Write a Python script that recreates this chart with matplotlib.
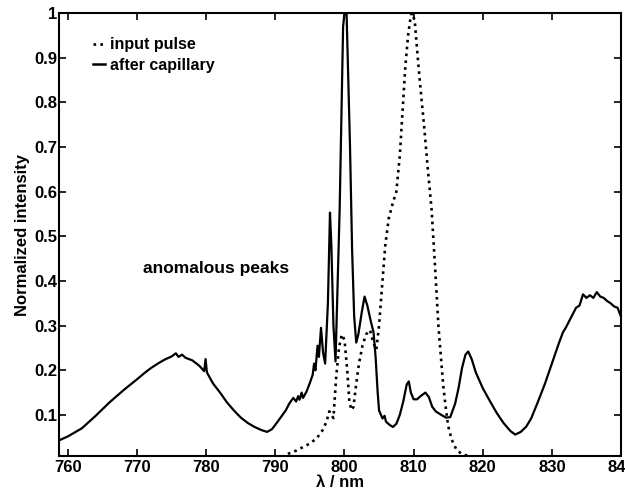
import matplotlib
matplotlib.use("Agg")
import matplotlib.pyplot as plt
from matplotlib.lines import Line2D

# Spectrum after the capillary (wavelength in nm, normalized intensity)
after_wl = [758.7, 760, 762, 764, 766, 768, 770, 771, 772, 773, 774, 775, 775.6, 776,
            776.5, 777, 778, 779, 779.7, 779.9, 780.1, 781, 782, 783, 784, 785, 786,
            787, 788, 788.8, 789.5, 790, 790.8, 791.5, 792, 792.3, 792.6, 793, 793.3,
            793.5, 793.8, 794, 794.5, 795, 795.4, 795.6, 795.8, 796.1, 796.3, 796.6,
            796.9, 797.2, 797.6, 797.9, 798.1, 798.4, 798.7, 799.3, 799.8, 800.0,
            800.3, 800.8, 801.1, 801.4, 801.7, 802.0, 802.5, 802.9, 803.3, 803.8,
            804.2, 804.5, 804.8, 805.0, 805.5, 805.8, 806.0, 806.5, 807.0, 807.5,
            808.0, 808.5, 809.0, 809.3, 809.6, 810.0, 810.5, 811.0, 811.7, 812.2,
            812.7, 813.2, 814.0, 814.7, 815.3, 816.0, 816.5, 817.0, 817.5, 817.9,
            818.4, 819.0, 820.0, 821.0, 822.0, 823.0, 824.0, 824.7, 825.5, 826.3,
            827.0, 828.0, 829.0, 830.0, 831.0, 831.6, 832.0, 833.0, 833.5, 834.0,
            834.5, 835.0, 835.5, 836.0, 836.5, 837.0, 837.5, 838.0, 838.5, 839.0,
            839.5, 840.0]
after_int = [0.043, 0.052, 0.070, 0.098, 0.128, 0.155, 0.180, 0.193, 0.205, 0.215, 0.224,
             0.231, 0.238, 0.230, 0.235, 0.228, 0.222, 0.210, 0.198, 0.225, 0.195, 0.170,
             0.150, 0.128, 0.110, 0.094, 0.082, 0.073, 0.066, 0.062, 0.068, 0.078, 0.095,
             0.110, 0.125, 0.132, 0.138, 0.130, 0.142, 0.134, 0.150, 0.138, 0.152, 0.172,
             0.190, 0.215, 0.200, 0.255, 0.230, 0.295, 0.240, 0.215, 0.350, 0.553, 0.480,
             0.300, 0.220, 0.560, 0.970, 1.000, 1.000, 0.700, 0.470, 0.320, 0.262, 0.280,
             0.330, 0.365, 0.345, 0.310, 0.285, 0.230, 0.150, 0.110, 0.092, 0.098, 0.085,
             0.078, 0.073, 0.080, 0.100, 0.130, 0.168, 0.175, 0.150, 0.135, 0.135, 0.142,
             0.150, 0.140, 0.118, 0.108, 0.100, 0.094, 0.095, 0.125, 0.160, 0.205, 0.235,
             0.242, 0.225, 0.195, 0.160, 0.132, 0.105, 0.082, 0.064, 0.056, 0.062, 0.074,
             0.092, 0.130, 0.170, 0.215, 0.260, 0.285, 0.295, 0.325, 0.340, 0.345, 0.370,
             0.362, 0.368, 0.362, 0.375, 0.365, 0.362, 0.355, 0.350, 0.343, 0.340, 0.320]

# Input pulse spectrum
input_wl = [786, 788, 790, 791, 792, 793, 794, 795, 796, 796.8, 797.4, 797.8, 798.1,
            798.4, 798.8, 799.2, 799.6, 800.0, 800.4, 800.7, 801.0, 801.3, 801.7, 802.1,
            802.6, 803.1, 803.7, 804.1, 804.6, 805.0, 805.4, 805.9, 806.4, 807.0, 807.5,
            808.0, 808.4, 808.8, 809.2, 809.6, 809.9, 810.2, 810.6, 811.0, 811.5, 812.0,
            812.6, 813.1, 813.6, 814.0, 814.3, 814.7, 815.0, 815.5, 816.2, 817.0, 818.5,
            820.0, 822.0]
input_int = [0.0, 0.0, 0.002, 0.006, 0.014, 0.020, 0.028, 0.036, 0.048, 0.065, 0.085,
             0.108, 0.100, 0.093, 0.185, 0.250, 0.280, 0.268, 0.200, 0.130, 0.111, 0.118,
             0.170, 0.215, 0.255, 0.280, 0.290, 0.265, 0.246, 0.300, 0.380, 0.480, 0.540,
             0.575, 0.600, 0.680, 0.780, 0.880, 0.950, 0.995, 1.000, 0.975, 0.900, 0.830,
             0.750, 0.660, 0.560, 0.432, 0.297, 0.220, 0.163, 0.110, 0.075, 0.045, 0.022,
             0.012, 0.006, 0.003, 0.0]

x_ticks = [760, 770, 780, 790, 800, 810, 820, 830, 840]
y_ticks = [0.1, 0.2, 0.3, 0.4, 0.5, 0.6, 0.7, 0.8, 0.9, 1.0]
y_tick_labels = ["0.1", "0.2", "0.3", "0.4", "0.5", "0.6", "0.7", "0.8", "0.9", "1"]

plt.rcParams["font.family"] = ["Liberation Sans", "DejaVu Sans"]
plt.rcParams["font.weight"] = "bold"

fig = plt.figure(figsize=(6.25, 4.94), dpi=100)
ax = fig.add_axes([0.0944, 0.0769, 0.8992, 0.8968])

dotted = (0, (1, 1.6))
ax.plot(input_wl, input_int, color="black", lw=1.9, linestyle=dotted)
ax.plot(after_wl, after_int, color="black", lw=1.6)

ax.set_xlim(758.7, 840.0)
ax.set_ylim(0.008, 1.0)
ax.set_xticks(x_ticks)
ax.set_yticks(y_ticks)
ax.set_yticklabels(y_tick_labels)
ax.tick_params(direction="in", length=5, width=1.2, top=True, right=True,
               labelsize=12, pad=3)
ax.tick_params(axis="y", pad=1)
for sp in ax.spines.values():
    sp.set_linewidth(1.5)

ax.set_xlabel("λ / nm", fontsize=12, fontweight="bold", labelpad=0)
ax.set_ylabel("Normalized intensity", fontsize=12, fontweight="bold", labelpad=3)

handles = [Line2D([], [], color="black", lw=1.9, linestyle=dotted),
           Line2D([], [], color="black", lw=1.8)]
ax.legend(handles, ["input pulse", "after capillary"], loc="upper left",
          bbox_to_anchor=(0.06, 0.945), frameon=False, fontsize=11.5,
          handlelength=0.8, handletextpad=0.3, labelspacing=0.35,
          borderaxespad=0, borderpad=0)

ax.text(0.149, 0.424, "anomalous peaks", transform=ax.transAxes,
        fontsize=12.5, fontweight="bold", va="center", ha="left")

fig.savefig("out.png", dpi=100)
